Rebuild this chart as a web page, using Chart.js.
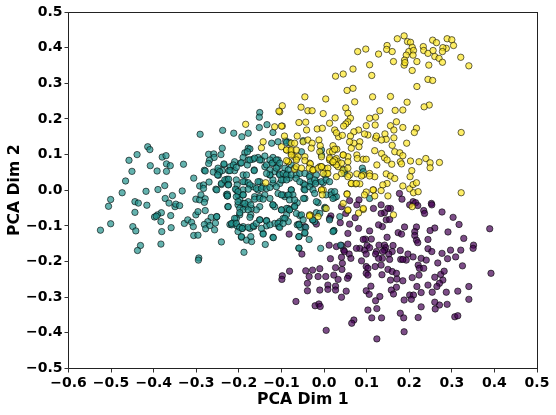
<!DOCTYPE html>
<html lang="en">
<head>
  <meta charset="UTF-8" />
  <title>PCA scatter</title>
  <script src="https://cdn.jsdelivr.net/npm/chart.js"></script>
  <style>
    html, body { margin: 0; padding: 0; background: white; }
    canvas { display: block; }
  </style>
</head>
<body>
  <canvas id="pcaChart" width="556" height="415"></canvas>
  <script>
    const xTicks = [-0.6, -0.5, -0.4, -0.3, -0.2, -0.1, 0, 0.1, 0.2, 0.3, 0.4, 0.5];
    const yTicks = [-0.5, -0.4, -0.3, -0.2, -0.1, 0, 0.1, 0.2, 0.3, 0.4, 0.5];
    const xLabel = 'PCA Dim 1';
    const yLabel = 'PCA Dim 2';

    const purplePoints = [
      [.389,-.108],[.392,-.233],[.351,-.154],[.350,-.163],[.328,-.135],[.325,-.212],[.321,-.168],[.309,-.187],[.297,-.168],[.290,-.192],
      [.277,-.177],[.267,-.204],[.291,-.117],[.317,-.096],[.303,-.076],[.277,-.061],[.260,-.106],[.249,-.113],[.252,-.037],[.253,-.041],
      [.234,-.057],[.236,-.065],[.209,-.032],[.215,-.035],[.201,-.041],[.220,-.043],[.177,-.009],[.183,-.025],[.189,-.103],[.174,-.119],
      [.182,-.123],[.217,-.103],[.213,-.116],[.213,-.127],[.217,-.140],[.220,-.147],[.244,-.138],[.244,-.164],[.253,-.172],[.197,-.179],
      [.209,-.187],[.179,-.169],[.180,-.194],[.193,-.196],[.162,-.155],[.148,-.132],[.137,-.102],[.128,-.097],[.146,-.083],[.154,-.082],
      [.156,-.051],[.150,-.051],[.134,-.041],[.142,-.063],[.134,-.065],[.116,-.051],[.107,-.114],[.111,-.137],[.081,-.107],[.056,-.121],
      [.060,-.095],[.038,-.091],[.016,-.072],[.013,-.079],[.041,-.046],[.060,-.029],[.082,-.027],[.077,-.041],[.073,-.077],[.051,-.065],
      [.097,-.137],[.092,-.138],[.101,-.155],[.095,-.168],[.084,-.163],[.076,-.163],[.056,-.151],[.041,-.155],[.029,-.158],[.012,-.154],
      [.046,-.168],[.048,-.172],[.059,-.179],[.063,-.191],[.041,-.188],[.015,-.192],[.043,-.205],[.027,-.217],[.042,-.222],[.088,-.198],
      [.099,-.179],[.099,-.214],[.103,-.219],[.099,-.233],[.103,-.238],[.120,-.214],[.134,-.210],[.123,-.172],[.121,-.179],[.129,-.154],
      [.142,-.154],[.145,-.161],[.160,-.172],[.152,-.179],[.137,-.191],[.154,-.194],[.150,-.222],[.160,-.228],[.170,-.233],[.136,-.237],
      [.156,-.252],[.171,-.249],[.185,-.254],[.170,-.272],[.158,-.280],[.163,-.291],[.110,-.269],[.099,-.282],[.106,-.292],[.131,-.298],
      [.121,-.310],[.124,-.332],[.103,-.336],[.112,-.358],[.135,-.358],[.070,-.364],[.065,-.373],[.005,-.393],[.124,-.417],[.188,-.397],
      [.179,-.345],[.187,-.358],[.221,-.357],[.228,-.327],[.188,-.308],[.201,-.294],[.210,-.294],[.205,-.306],[.228,-.287],[.218,-.270],
      [.207,-.245],[.223,-.238],[.221,-.210],[.224,-.219],[.234,-.219],[.228,-.191],[.240,-.196],[.260,-.244],[.279,-.252],[.274,-.236],
      [.282,-.227],[.271,-.261],[.265,-.270],[.244,-.266],[.254,-.286],[.287,-.286],[.314,-.283],[.340,-.270],[.340,-.306],[.289,-.320],
      [.271,-.322],[.260,-.314],[.261,-.333],[.307,-.355],[.314,-.352],[-.052,-.179],[-.081,-.227],[-.098,-.240],[-.099,-.250],[-.043,-.226],
      [-.027,-.224],[-.010,-.220],[-.035,-.242],[-.014,-.242],[.004,-.242],[.023,-.238],[.033,-.250],[.058,-.240],[.055,-.247],[-.039,-.261],
      [-.039,-.282],[-.010,-.280],[.009,-.266],[.009,-.278],[.027,-.269],[.027,-.280],[.052,-.283],[.041,-.300],[-.066,-.312],[-.021,-.324],
      [-.012,-.319],[-.009,-.326],[-.082,-.123],[-.045,-.102],[-.018,-.095],[.185,-.194],[.142,-.168],[.107,-.161],[.128,-.191],[.138,-.172]
    ];

    const tealPoints = [
      [-.525,-.112],[-.501,-.094],[-.506,-.045],[-.501,-.026],[-.474,-.007],[-.466,.026],[-.451,.053],[-.458,.084],[-.439,.100],[-.414,.122],
      [-.409,.114],[-.408,.069],[-.392,.054],[-.380,.093],[-.371,.097],[-.370,.074],[-.361,.069],[-.370,.053],[-.330,.073],[-.418,-.003],
      [-.390,.002],[-.374,.013],[-.333,-.002],[-.444,-.032],[-.436,-.036],[-.416,-.042],[-.444,-.062],[-.373,-.023],[-.356,-.015],[-.364,-.036],
      [-.350,-.046],[-.348,-.039],[-.339,-.043],[-.382,-.063],[-.391,-.069],[-.398,-.075],[-.394,-.073],[-.360,-.071],[-.383,-.088],[-.449,-.102],
      [-.442,-.114],[-.381,-.116],[-.359,-.105],[-.383,-.151],[-.431,-.155],[-.438,-.169],[-.294,-.190],[-.295,-.196],[-.328,-.093],[-.320,-.083],
      [-.311,-.090],[-.307,-.102],[-.306,-.127],[-.296,-.126],[-.301,-.069],[-.296,-.060],[-.279,-.057],[-.301,-.025],[-.292,-.027],[-.289,-.013],
      [-.279,-.024],[-.281,-.034],[-.306,.034],[-.292,.012],[-.283,.015],[-.283,.005],[-.270,.023],[-.254,.003],[-.241,.016],[-.281,.056],
      [-.279,.054],[-.291,.157],[-.238,.168],[-.239,.118],[-.242,.100],[-.271,.101],[-.259,.102],[-.258,.092],[-.269,.084],[-.271,.075],
      [-.235,.072],[-.260,.051],[-.249,.055],[-.239,.055],[-.248,.042],[-.224,.055],[-.231,.025],[-.228,.031],[-.224,.016],[-.229,-.012],
      [-.227,-.016],[-.226,-.046],[-.265,-.076],[-.252,-.074],[-.273,-.088],[-.281,-.096],[-.278,-.108],[-.268,-.099],[-.255,-.092],[-.257,-.111],
      [-.241,-.145],[-.221,-.096],[-.212,.160],[-.193,.150],[-.178,.160],[-.151,.218],[-.152,.205],[-.152,.176],[-.134,.184],[-.120,.162],
      [-.123,.132],[-.108,.136],[-.090,.139],[-.081,.134],[-.049,.139],[-.178,.118],[-.174,.116],[-.186,.105],[-.190,.092],[-.178,.085],
      [-.167,.087],[-.155,.092],[-.147,.085],[-.120,.092],[-.120,.076],[-.210,.080],[-.220,.066],[-.210,.055],[-.196,.076],[-.180,.071],
      [-.164,.057],[-.139,.066],[-.108,.066],[-.116,.052],[-.127,.043],[-.105,.046],[-.087,.046],[-.081,.034],[-.190,.043],[-.186,.024],
      [-.151,.024],[-.167,.010],[-.143,.010],[-.120,.019],[-.104,.019],[-.077,.001],[-.206,.029],[-.204,.015],[-.206,.001],[-.202,-.013],
      [-.190,.001],[-.190,-.013],[-.198,-.027],[-.190,-.037],[-.202,-.041],[-.184,-.046],[-.170,-.051],[-.151,-.046],[-.163,-.018],[-.151,-.018],
      [-.139,-.013],[-.155,.001],[-.120,-.041],[-.116,-.046],[-.100,-.055],[-.084,-.051],[-.081,-.055],[-.069,-.044],[-.063,-.035],[-.092,-.018],
      [-.081,-.013],[-.049,.019],[-.047,.003],[-.030,.018],[-.018,.024],[.002,.043],[-.018,.043],[-.034,.043],[-.002,.021],[-.045,-.023],
      [-.014,-.035],[.017,-.004],[.025,-.020],[.002,-.048],[-.018,-.063],[-.010,-.065],[-.057,-.071],[-.063,-.097],[-.059,-.095],[-.055,-.104],
      [-.043,-.104],[-.022,-.088],[.023,-.114],[.037,-.074],[.029,-.018],[.045,.057],[.090,.062],[.092,.052],[.107,-.023],[-.077,.071],
      [-.108,.085],[-.127,.085],[-.198,-.069],[-.206,-.079],[-.213,-.091],[-.217,-.097],[-.204,-.100],[-.192,-.107],[-.190,-.102],[-.174,-.107],
      [-.165,-.102],[-.151,-.083],[-.135,-.085],[-.116,-.093],[-.104,-.088],[-.106,-.102],[-.135,-.100],[-.088,-.069],[-.202,-.116],[-.194,-.132],
      [-.182,-.140],[-.170,-.144],[-.143,-.121],[-.120,-.132],[-.138,-.152],[-.188,-.174],[-.059,-.163],[-.084,-.088],[-.045,-.121],[-.059,-.130],
      [-.119,-.133],[-.059,-.162],[-.008,-.163],[.023,-.113],[.039,-.154],[-.035,-.138],[-.059,-.130],[-.045,-.119],[-.059,-.097],[-.027,-.083],
      [.013,-.083],
      [-.180,.108],[-.194,.077],[-.213,.071],[-.206,.064],[-.221,.055],[-.235,.074],[-.249,.062],[-.245,.052],[-.250,.043],[-.174,.085],
      [-.163,.090],[-.151,.085],[-.139,.096],[-.135,.071],[-.122,.076],[-.112,.085],[-.104,.076],[-.127,.057],[-.112,.062],[-.104,.043],
      [-.096,.029],[-.164,.055],[-.182,.043],[-.190,.024],[-.178,.021],[-.174,.015],[-.178,.003],[-.155,.024],[-.159,.005],[-.147,.005],
      [-.135,.005],[-.127,.008],[-.112,.010],[-.120,.029],[-.127,.043],[-.135,.047],[-.241,.019],[-.233,.029],[-.224,.031],[-.225,.015],
      [-.252,.001],[-.227,-.011],[-.227,-.016],[-.208,.003],[-.202,-.004],[-.206,-.018],[-.202,-.032],[-.190,-.013],[-.178,-.032],[-.186,-.037],
      [-.172,-.041],[-.163,-.025],[-.151,-.023],[-.143,-.025],[-.108,-.009],[-.120,-.041],[-.096,-.013],[-.127,-.023],[-.159,-.055],[-.225,-.046],
      [-.198,-.051],[-.190,-.055],[-.178,-.055],[-.198,-.063],[-.172,-.069],[-.174,-.076],[-.252,-.074],[-.210,-.079],[-.217,-.093],[-.206,-.093],
      [-.198,-.104],[-.192,-.107],[-.178,-.104],[-.166,-.100],[-.159,-.093],[-.151,-.083],[-.135,-.086],[-.127,-.097],[-.108,-.093],[-.104,-.104],
      [-.143,-.123],[-.194,-.130],[-.172,-.130],[-.147,-.107],[-.096,-.079],
      [-.088,.134],[-.006,.113],[-.006,.099],[-.053,.108],[-.092,.062],[-.084,.057],[-.069,.062],[-.096,.047],[-.088,.043],[-.077,.043],
      [-.100,.029],[-.088,.029],[-.065,.043],[-.057,.047],[-.045,.047],[-.065,.033],[-.057,.024],[-.034,.038],[-.032,.024],[-.022,.029],
      [-.020,.019],[-.006,.024],[.005,.029],[.013,.024],[-.045,.015],[-.045,.001],[-.034,.010],[-.026,.001],[-.022,-.009],[.005,-.013],
      [.017,-.013],[.021,-.023],[.025,-.004],[.048,.057],[.048,.047],[-.077,.001],[-.073,-.013],[-.084,-.013],[-.100,-.013],[-.081,-.027],
      [-.069,-.027],[-.048,-.023],[-.088,-.051],[-.081,-.055],[-.069,-.046],[-.065,-.065],[-.100,-.055],[-.092,-.079],[-.096,-.093],[-.053,-.069],
      [-.049,-.083],[-.026,-.083],[.002,-.051],[-.018,-.032],[.021,-.116]
    ];

    const yellowPoints = [
      [.172,.425],[.188,.433],[.196,.417],[.203,.415],[.207,.401],[.199,.389],[.210,.392],[.209,.379],[.193,.379],[.189,.365],
      [.188,.351],[.190,.358],[.148,.406],[.147,.395],[.160,.389],[.128,.382],[.098,.396],[.079,.389],[.107,.352],[.163,.361],
      [.112,.322],[.068,.340],[.045,.326],[.027,.320],[.068,.286],[.054,.280],[.218,.361],[.207,.336],[.246,.351],[.233,.403],
      [.234,.392],[.244,.384],[.256,.392],[.255,.421],[.264,.414],[.289,.425],[.300,.422],[.304,.406],[.287,.398],[.279,.400],
      [.278,.389],[.260,.375],[.270,.370],[.278,.359],[.321,.373],[.340,.349],[.244,.311],[.255,.308],[.218,.291],[.247,.239],
      [.235,.234],[.195,.247],[.156,.263],[.114,.262],[.072,.248],[.004,.256],[-.045,.262],[-.054,.233],[-.038,.223],[-.028,.223],
      [-.098,.237],[-.104,.220],[-.002,.215],[.051,.231],[.056,.216],[.062,.202],[.056,.192],[.051,.186],[.046,.180],[.026,.203],
      [.131,.223],[.121,.205],[.107,.202],[.120,.183],[.167,.224],[.185,.225],[.170,.192],[.156,.181],[.164,.169],[.185,.176],
      [.217,.174],[.212,.162],[.322,.162],[.164,.147],[.194,.132],[.160,.126],[.166,.108],[.178,.105],[.185,.097],[.179,.080],
      [.182,.074],[.159,.073],[.203,.082],[.223,.080],[.239,.089],[.249,.077],[.271,.078],[.249,.063],[.206,.055],[.202,.038],
      [.146,.046],[.156,.040],[.166,.033],[.124,.071],[.119,.111],[.135,.103],[.142,.091],[.148,.085],[.099,.181],[.081,.169],
      [.070,.164],[.062,.152],[.034,.150],[.043,.154],[.013,.188],[.025,.169],[.029,.161],[-.016,.172],[-.004,.174],[-.041,.169],
      [-.059,.190],[-.043,.191],[-.098,.180],[-.093,.152],[-.063,.152],[-.077,.132],[-.069,.132],[-.049,.136],[-.038,.141],[-.028,.132],
      [-.030,.118],[-.012,.141],[-.009,.125],[.021,.125],[.030,.115],[-.010,.108],[-.006,.094],[.013,.108],[.015,.085],[.029,.089],
      [.045,.099],[.056,.094],[.056,.080],[.077,.099],[.084,.136],[.082,.122],[.070,.132],[.060,.136],[.064,.118],[.103,.155],
      [.095,.158],[.121,.146],[.123,.152],[.143,.158],[.146,.143],[.135,.141],[.078,.089],[.092,.087],[.099,.087],[-.077,.103],
      [-.065,.089],[-.069,.059],[-.026,.057],[.002,.061],[-.010,.066],[.021,.077],[.033,.066],[.045,.057],[.060,.043],[.077,.046],
      [.092,.043],[.107,.047],[.119,.038],[.007,.047],[.029,.038],[-.081,.113],[-.084,.080],[.185,.012],[.201,.004],[.210,-.007],
      [.209,.016],[.217,.021],[.221,-.004],[.322,-.007],[.148,.019],[.138,.015],[.150,-.016],[.134,-.001],[.116,.001],[.064,.019],
      [.074,.018],[.084,.018],[.054,-.010],[.099,-.005],[.119,-.016],[.092,-.054],[.081,-.064],[.163,-.069],[.056,-.057],[-.032,-.070],
      [-.006,.001],[.005,-.051],[.045,-.037],[.207,-.046],[-.106,.222],[-.184,.185],[-.147,.119],[-.116,.178],[-.100,.180],[-.143,.136],
      [-.088,.113],[-.077,.108],[-.084,.080],[-.069,.094],[-.065,.066],[-.053,.062],[-.034,.076],[-.026,.057],[-.006,.066],[.013,.085],
      [.021,.080],[.033,.080],[.041,.047],[.064,.019],[.076,.019],[.088,.040],[.107,.040],[.115,.001],[.095,-.013],[.092,-.051],
      [.056,-.055],[.054,-.011],[-.002,.001],[-.034,-.069],[-.137,.021],
      [-.100,.122],[-.088,.113],[-.077,.113],[-.065,.113],[-.077,.099],[-.061,.094],[-.045,.094],[-.088,.083],[-.065,.085],[-.045,.083],
      [-.032,.074],[-.035,.062],[-.026,.057],[-.014,.062],[-.006,.066],[.009,.062],[.009,.047],[-.002,.047],[.020,.108],[.025,.115],
      [.045,.099],[.013,.090],[.025,.085],[.041,.076],[.029,.071],[.056,.062],[.021,.080],[-.006,.001],[-.004,-.013],[-.014,-.074],
      [-.034,-.072],[.056,.038]
    ];

    function toXY(points) {
      return points.map(p => ({ x: p[0], y: p[1] }));
    }

    function makeDataset(points, color) {
      return {
        data: toXY(points),
        backgroundColor: color,
        borderColor: 'rgba(0, 0, 0, 0.6)',
        borderWidth: 1,
        pointRadius: 3.2
      };
    }

    const tickFont = { family: "'DejaVu Sans'", size: 14, weight: 'bold' };
    const titleFont = { family: "'DejaVu Sans'", size: 15.7, weight: 'bold' };

    function minusLabel(v) {
      const s = Math.abs(v).toFixed(1);
      return v < -0.001 ? '\u2212' + s : s;
    }

    function edgeColor(first, last) {
      return ctx => {
        const v = ctx.tick ? ctx.tick.value : null;
        return (Math.abs(v - first) < 1e-6 || Math.abs(v - last) < 1e-6) ? '#222' : 'rgba(0,0,0,0)';
      };
    }

    new Chart(document.getElementById('pcaChart'), {
      type: 'scatter',
      data: {
        datasets: [
          makeDataset(yellowPoints, 'rgba(253, 231, 37, 0.7)'),
          makeDataset(tealPoints, 'rgba(33, 145, 140, 0.7)'),
          makeDataset(purplePoints, 'rgba(68, 1, 84, 0.7)')
        ]
      },
      options: {
        responsive: false,
        animation: false,
        layout: { padding: { top: 12, right: 19, left: 6, bottom: 6 } },
        plugins: { legend: { display: false }, tooltip: { enabled: false } },
        scales: {
          x: {
            type: 'linear',
            min: -0.6,
            max: 0.5,
            afterBuildTicks: scale => { scale.ticks = xTicks.map(value => ({ value })); },
            afterFit: scale => { scale.height = 40.5; },
            ticks: {
              color: '#000',
              font: tickFont,
              padding: 2,
              maxRotation: 0,
              autoSkip: false,
              callback: minusLabel
            },
            grid: { color: edgeColor(-0.6, 0.5), tickColor: '#333', tickLength: 4, lineWidth: 1 },
            border: { display: false },
            title: { display: true, text: xLabel, color: '#000', font: titleFont, padding: { top: 0, bottom: 0 } }
          },
          y: {
            type: 'linear',
            min: -0.5,
            max: 0.5,
            afterBuildTicks: scale => { scale.ticks = yTicks.map(value => ({ value })); },
            afterFit: scale => { scale.width = 62.5; },
            ticks: {
              color: '#000',
              font: tickFont,
              padding: 2,
              autoSkip: false,
              callback: minusLabel
            },
            grid: { color: edgeColor(-0.5, 0.5), tickColor: '#333', tickLength: 4, lineWidth: 1 },
            border: { display: false },
            title: { display: true, text: yLabel, color: '#000', font: titleFont, padding: { top: 0, bottom: 0 } }
          }
        }
      }
    });
  </script>
</body>
</html>
